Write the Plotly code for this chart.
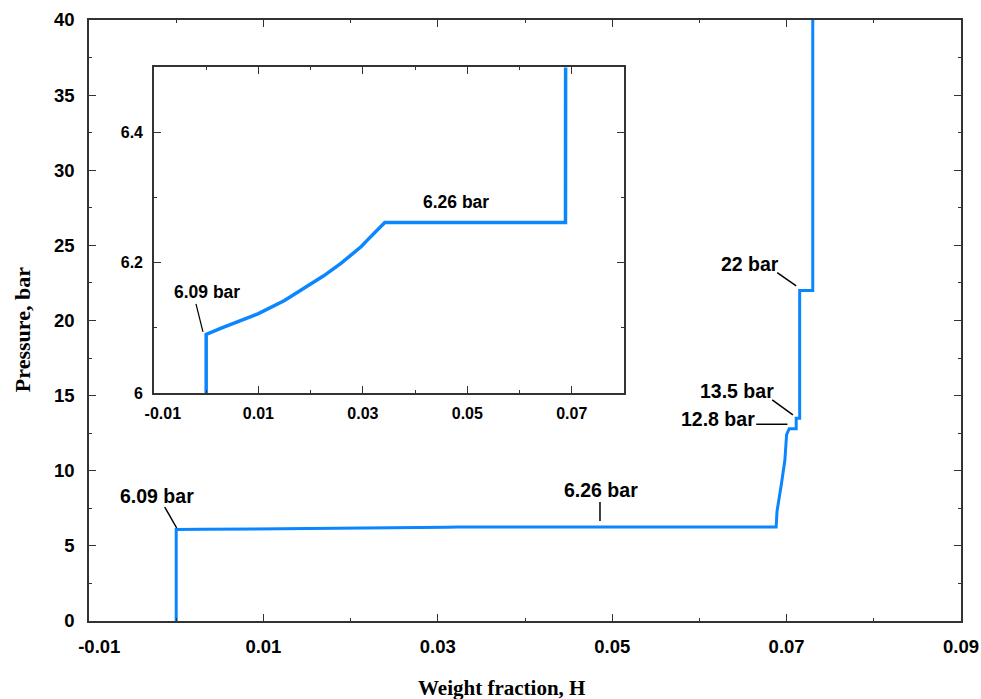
import plotly.graph_objects as go

# Hydrogen weight fraction vs. pressure (absorption isotherm)
weight_fraction = [0.0, 0.0, 0.0030, 0.0060, 0.0100, 0.0150, 0.0192, 0.0225, 0.0258,
                   0.0280, 0.0297, 0.0310, 0.0324, 0.0334, 0.0342,
                   0.0688, 0.0689, 0.0694, 0.0698, 0.0700, 0.0703, 0.0711, 0.0711,
                   0.0715, 0.0715, 0.0730, 0.0730]
pressure_bar = [0.0, 6.09, 6.100, 6.109, 6.122, 6.142, 6.163, 6.180, 6.199,
                6.213, 6.225, 6.236, 6.248, 6.256, 6.262,
                6.262, 7.3, 9.1, 10.7, 12.4, 12.8, 12.8, 13.5,
                13.5, 22.0, 22.0, 45.0]

# Axis ticks (the leftmost label is padded so it sits right of its tick)
PAD = "\u00a0\u00a0\u00a0\u00a0"
main_x_major = [-0.01, 0.01, 0.03, 0.05, 0.07, 0.09]
main_x_labels = [PAD + "-0.01", "0.01", "0.03", "0.05", "0.07", "0.09"]
main_x_minor = [0.0, 0.02, 0.04, 0.06, 0.08]
main_y_major = [0, 5, 10, 15, 20, 25, 30, 35, 40]
main_y_minor = [2.5, 7.5, 12.5, 17.5, 22.5, 27.5, 32.5, 37.5]
inset_x_major = [-0.01, 0.01, 0.03, 0.05, 0.07]
inset_x_labels = [PAD + "-0.01", "0.01", "0.03", "0.05", "0.07"]
inset_x_minor = [0.0, 0.02, 0.04, 0.06, 0.08]
inset_y_major = [6.0, 6.2, 6.4]
inset_y_labels = ["6", "6.2", "6.4"]
inset_y_minor = [6.1, 6.3, 6.5]

# Labelled pressure levels: (text, text x, text y)
main_labels = [("6.09 bar", -0.0022, 8.32), ("6.26 bar", 0.0487, 8.72),
               ("22 bar", 0.0658, 23.76), ("13.5 bar", 0.0643, 15.31),
               ("12.8 bar", 0.0621, 13.44)]
inset_labels = [("6.09 bar", 0.00015, 6.155), ("6.26 bar", 0.0478, 6.294)]

# Leader lines: anchor point on the curve + pixel offsets (x0, y0, x1, y1)
main_leaders = [((0.0, 6.09), (-11.5, 22.5, 0.5, 1.5)),
                ((0.0486, 6.262), (0, 25, 0, 6)),
                ((0.0715, 22.0), (-22.5, 17.8, -3.5, 4.5)),
                ((0.0711, 13.5), (-24, 18.2, -3.3, 3.2)),
                ((0.0703, 12.8), (-33, 4.4, -1.8, 4.4))]
inset_leaders = [((0.0, 6.09), (-10.2, 30.5, -3.2, 2.5))]

BLUE = "#0a86ff"
AXIS = "#333333"
TICK_FONT = dict(family="Liberation Sans, Arial", size=18.5, color="black", weight="bold")
INSET_TICK_FONT = dict(family="Liberation Sans, Arial", size=16, color="black", weight="bold")

fig = go.Figure()
fig.add_trace(go.Scatter(x=weight_fraction, y=pressure_bar, mode="lines",
                         line=dict(color=BLUE, width=3), xaxis="x", yaxis="y",
                         showlegend=False))
fig.add_trace(go.Scatter(x=weight_fraction, y=pressure_bar, mode="lines",
                         line=dict(color=BLUE, width=3.5), xaxis="x2", yaxis="y2",
                         showlegend=False))


def axis_style(major, minor, font, ticktext=None, rng=None, domain=None, anchor=None,
               standoff=6):
    d = dict(range=rng, tickmode="array", tickvals=major, ticks="inside", ticklen=7,
             tickwidth=1.3, tickcolor=AXIS, showline=True, linecolor=AXIS, linewidth=1.5,
             mirror="ticks", showgrid=False, zeroline=False, tickfont=font,
             ticklabelstandoff=standoff, automargin=False,
             minor=dict(tickmode="array", tickvals=minor, ticks="inside", ticklen=3,
                        tickwidth=1.3, tickcolor=AXIS, showgrid=False))
    if ticktext is not None:
        d["ticktext"] = ticktext
    if domain is not None:
        d["domain"] = domain
    if anchor is not None:
        d["anchor"] = anchor
    return d


fig.update_layout(
    width=981, height=699,
    margin=dict(l=89, r=20, t=20, b=78),
    paper_bgcolor="white", plot_bgcolor="white",
    xaxis=axis_style(main_x_major, main_x_minor, TICK_FONT, ticktext=main_x_labels,
                     rng=[-0.01, 0.09], standoff=8),
    yaxis=axis_style(main_y_major, main_y_minor, TICK_FONT, rng=[0, 40], standoff=9),
    xaxis2=axis_style(inset_x_major, inset_x_minor, INSET_TICK_FONT,
                      ticktext=inset_x_labels, rng=[-0.01, 0.08],
                      domain=[0.0745, 0.6135], anchor="y2", standoff=5),
    yaxis2=axis_style(inset_y_major, inset_y_minor, INSET_TICK_FONT,
                      ticktext=inset_y_labels, rng=[6.0, 6.5],
                      domain=[0.3794, 0.921], anchor="x2", standoff=6),
)

# Inset background panel so the inset reads as a separate box
fig.add_shape(type="rect", xref="x2 domain", yref="y2 domain", x0=0, x1=1, y0=0, y1=1,
              fillcolor="white", line=dict(width=0), layer="below")

ann_font = dict(family="Liberation Sans, Arial", size=19.5, color="black", weight="bold")
inset_ann_font = dict(family="Liberation Sans, Arial", size=17.5, color="black",
                      weight="bold")

for text, x, y in main_labels:
    fig.add_annotation(x=x, y=y, xref="x", yref="y", text=text, showarrow=False,
                       font=ann_font)
for text, x, y in inset_labels:
    fig.add_annotation(x=x, y=y, xref="x2", yref="y2", text=text, showarrow=False,
                       font=inset_ann_font)

for (ax_, ay_), (x0, y0, x1, y1) in main_leaders:
    fig.add_shape(type="line", xref="x", yref="y", xsizemode="pixel", ysizemode="pixel",
                  xanchor=ax_, yanchor=ay_, x0=x0, y0=y0, x1=x1, y1=y1,
                  line=dict(color="black", width=1.5))
for (ax_, ay_), (x0, y0, x1, y1) in inset_leaders:
    fig.add_shape(type="line", xref="x2", yref="y2", xsizemode="pixel", ysizemode="pixel",
                  xanchor=ax_, yanchor=ay_, x0=x0, y0=y0, x1=x1, y1=y1,
                  line=dict(color="black", width=1.2))

title_font = dict(family="Liberation Serif, Times New Roman", size=21, color="black",
                  weight="bold")
fig.add_annotation(text="Weight fraction, H", xref="paper", yref="paper",
                   x=0.4725, y=-0.1115, xanchor="center", yanchor="middle",
                   showarrow=False, font=title_font)
fig.add_annotation(text="Pressure, bar", xref="paper", yref="paper", textangle=-90,
                   x=-0.0768, y=0.484, xanchor="center", yanchor="middle",
                   showarrow=False, font=dict(title_font, size=22))

fig.write_html("out.html")
